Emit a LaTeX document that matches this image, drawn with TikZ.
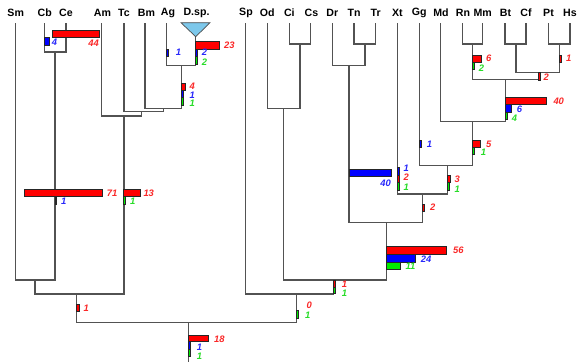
\documentclass[tikz,border=0pt]{standalone}
\usepackage{fontspec}
\setmainfont{Liberation Sans}
\definecolor{nred}{RGB}{255,0,0}
\definecolor{nblue}{RGB}{0,0,255}
\definecolor{ngreen}{RGB}{0,235,0}
\definecolor{tred}{RGB}{250,40,40}
\definecolor{tblue}{RGB}{40,40,250}
\definecolor{tgreen}{RGB}{40,220,40}
\definecolor{cladefill}{RGB}{125,200,235}
\newcommand{\evbar}[5]{\draw[evbox,fill=#5] (#1,#2) rectangle (#3,#4);}
\begin{document}
\begin{tikzpicture}[x=1pt,y=-1pt,
  branch/.style={draw=black!68,line width=1.05pt},
  evbox/.style={draw=black!85,line width=0.6pt},
  taxon/.style={font=\bfseries\fontsize{10.6}{12}\selectfont,inner sep=0pt},
  cnt/.style={font=\bfseries\itshape\fontsize{9.4}{11}\selectfont,inner sep=0pt,anchor=west},
  cntr/.style={cnt,anchor=east}]
\useasboundingbox (0,0) rectangle (579,362);

% ---------- leaves (top ends of terminal branches)
\foreach \n/\x in {Sm/15.7,Cb/44.7,Ce/66,Am/101.7,Tc/124,Bm/145,Ag/166.7,
    Sp/245.7,Od/267.3,Ci/289.3,Cs/310.7,Dr/332.3,Tn/354,Tr/375.7,Xt/397.3,
    Gg/419.3,Md/440.7,Rn/462.3,Mm/482.3,Bt/505,Cf/526,Pt/548.3,Hs/570}
  \coordinate (\n) at (\x,23);
\coordinate (Dsp) at (195.7,36.7);

% ---------- taxon names
\foreach \n/\x/\t in {Sm/15.7/Sm,Cb/44.7/Cb,Ce/66/Ce,Am/102.5/Am,Tc/124/Tc,Bm/146.5/Bm,
    Ag/168/Ag,Dsp/196.5/D.sp.,Sp/246/Sp,Od/267.3/Od,Ci/289.3/Ci,Cs/311.5/Cs,Dr/332.3/Dr,
    Tn/354/Tn,Tr/375.7/Tr,Xt/397.3/Xt,Gg/419.3/Gg,Md/441/Md,Rn/463/Rn,Mm/482.7/Mm,
    Bt/505.5/Bt,Cf/526/Cf,Pt/548.5/Pt,Hs/570/Hs}
  \node[taxon] (lbl\n) at (\x,12.7) {\t};

% collapsed clade
\draw[fill=cladefill,draw=black!70,line width=0.7pt] (181,22.7) -- (210,22.7) -- (Dsp) -- cycle;

% ---------- internal nodes (x of stem, y of joining bar)
\coordinate (nCbCe) at (55,52);
\coordinate (nAgD)  at (181.7,65.7);
\coordinate (nBm)   at (163.3,108.3);
\coordinate (nTc)   at (141.7,111.7);
\coordinate (nAm)   at (124,116);
\coordinate (nSm)   at (35,280);
\coordinate (nL)    at (76.7,294);
\coordinate (root)  at (188.3,322.7);
\coordinate (rootend) at (188.3,362);
\coordinate (nCiCs) at (300,44);
\coordinate (nOd)   at (283.3,108.3);
\coordinate (nTnTr) at (365,44);
\coordinate (nDr)   at (349,65.7);
\coordinate (nRnMm) at (472.7,44);
\coordinate (nBtCf) at (516,44);
\coordinate (nPtHs) at (559.3,44);
\coordinate (nBP)   at (538.3,72.7);
\coordinate (nRB)   at (505.7,79.3);
\coordinate (nMd)   at (472.7,121.7);
\coordinate (nGg)   at (447.7,165.7);
\coordinate (nXt)   at (422.7,194);
\coordinate (nDX)   at (386.7,222.7);
\coordinate (nOD)   at (333.3,280);
\coordinate (nR)    at (296.7,294);

% ---------- branches
\foreach \p/\c in {nCbCe/Cb,nCbCe/Ce,nAgD/Ag,nAgD/Dsp,nBm/Bm,nBm/nAgD,nTc/Tc,nTc/nBm,
    nAm/Am,nAm/nTc,nSm/Sm,nSm/nCbCe,nL/nSm,nL/nAm,root/nL,root/nR,
    nCiCs/Ci,nCiCs/Cs,nOd/Od,nOd/nCiCs,nTnTr/Tn,nTnTr/Tr,nDr/Dr,nDr/nTnTr,
    nRnMm/Rn,nRnMm/Mm,nBtCf/Bt,nBtCf/Cf,nPtHs/Pt,nPtHs/Hs,nBP/nBtCf,nBP/nPtHs,
    nRB/nRnMm,nRB/nBP,nMd/Md,nMd/nRB,nGg/Gg,nGg/nMd,nXt/Xt,nXt/nGg,
    nDX/nDr,nDX/nXt,nOD/nOd,nOD/nDX,nR/Sp,nR/nOD}
  \draw[branch] (\p) -| (\c);
\draw[branch] (root) -- (rootend);

% ---------- event bars
\evbar{52.7}{30}{99.3}{37.3}{nred}
\evbar{44.7}{37.3}{49.3}{45}{nblue}
\evbar{166.7}{49.3}{168.5}{56.7}{nblue}
\evbar{195.7}{41.7}{219}{49}{nred}
\evbar{195.7}{49}{197.3}{56.7}{nblue}
\evbar{195.7}{56.7}{197.3}{64}{ngreen}
\evbar{181.7}{83.3}{185}{90}{nred}
\evbar{181.7}{90}{183.2}{97.3}{nblue}
\evbar{181.7}{97.3}{183.2}{105}{ngreen}
\evbar{24}{189.3}{102.3}{196.7}{nred}
\evbar{55}{196.7}{56.5}{204.3}{nblue}
\evbar{123.7}{189.3}{140}{196.7}{nred}
\evbar{123.7}{196.7}{125.2}{204.3}{ngreen}
\evbar{76.7}{304}{78.8}{311.5}{nred}
\evbar{188.3}{335}{208.3}{341.7}{nred}
\evbar{188.3}{341.7}{189.8}{349}{nblue}
\evbar{188.3}{349}{189.8}{356}{ngreen}
\evbar{296.7}{310.3}{298.3}{318.3}{ngreen}
\evbar{333.3}{280.7}{334.8}{287}{nred}
\evbar{333.3}{287}{334.8}{293.3}{ngreen}
\evbar{386.7}{246.7}{446.7}{254.3}{nred}
\evbar{386.7}{254.3}{415}{262}{nblue}
\evbar{386.7}{262}{400.7}{269.7}{ngreen}
\evbar{349}{169}{391}{176.7}{nblue}
\evbar{397.3}{167.5}{399}{175}{nblue}
\evbar{397.3}{175}{399}{182.5}{nred}
\evbar{397.3}{182.5}{399}{190}{ngreen}
\evbar{419.3}{140.7}{421}{147.3}{nblue}
\evbar{472.7}{140.7}{480.3}{147.3}{nred}
\evbar{472.7}{147.3}{474.2}{154}{ngreen}
\evbar{447.7}{175}{450}{182.7}{nred}
\evbar{447.7}{182.7}{449.2}{190}{ngreen}
\evbar{422.7}{204}{424.5}{211.7}{nred}
\evbar{472.7}{55}{481.3}{62.3}{nred}
\evbar{472.7}{62.3}{474.2}{69.7}{ngreen}
\evbar{559.3}{55}{561}{62.7}{nred}
\evbar{538.3}{72.7}{540}{80}{nred}
\evbar{505.7}{97.3}{546.7}{104.3}{nred}
\evbar{505.7}{104.3}{511}{112.3}{nblue}
\evbar{505.7}{112.3}{507.2}{119.7}{ngreen}

% ---------- counts
\node[cntr,text=tred]   (c01) at (99,43.3) {44};
\node[cnt,text=tblue]   (c02) at (51.7,42.7) {4};
\node[cnt,text=tblue]   (c03) at (175.7,52.7) {1};
\node[cnt,text=tred]    (c04) at (224,45.3) {23};
\node[cnt,text=tblue]   (c05) at (201.7,52.7) {2};
\node[cnt,text=tgreen]  (c06) at (201.7,62.3) {2};
\node[cnt,text=tred]    (c07) at (189.3,86) {4};
\node[cnt,text=tblue]   (c08) at (189.3,95) {1};
\node[cnt,text=tgreen]  (c09) at (189.3,103.3) {1};
\node[cnt,text=tred]    (c10) at (106.7,193.3) {71};
\node[cnt,text=tblue]   (c11) at (61,201.7) {1};
\node[cnt,text=tred]    (c12) at (143.3,193.3) {13};
\node[cnt,text=tgreen]  (c13) at (130,201.7) {1};
\node[cnt,text=tred]    (c14) at (83.3,308.3) {1};
\node[cnt,text=tred]    (c15) at (214,339) {18};
\node[cnt,text=tblue]   (c16) at (196.7,347.7) {1};
\node[cnt,text=tgreen]  (c17) at (196.7,356.7) {1};
\node[cnt,text=tred]    (c18) at (306.3,305.7) {0};
\node[cnt,text=tgreen]  (c19) at (305,315) {1};
\node[cnt,text=tred]    (c20) at (341.7,284.3) {1};
\node[cnt,text=tgreen]  (c21) at (341.7,293.3) {1};
\node[cnt,text=tred]    (c22) at (453,250.7) {56};
\node[cnt,text=tblue]   (c23) at (420.7,259.3) {24};
\node[cnt,text=tgreen]  (c24) at (405.3,266.7) {11};
\node[cntr,text=tblue]  (c25) at (391,183.3) {40};
\node[cnt,text=tblue]   (c26) at (403.5,167.8) {1};
\node[cnt,text=tred]    (c27) at (403.5,177.4) {2};
\node[cnt,text=tgreen]  (c28) at (403.5,187) {1};
\node[cnt,text=tblue]   (c29) at (426.7,144) {1};
\node[cnt,text=tred]    (c30) at (486,144.7) {5};
\node[cnt,text=tgreen]  (c31) at (480.7,152.3) {1};
\node[cnt,text=tred]    (c32) at (454.3,179) {3};
\node[cnt,text=tgreen]  (c33) at (454.3,189) {1};
\node[cnt,text=tred]    (c34) at (430,207.3) {2};
\node[cnt,text=tred]    (c35) at (486,58.3) {6};
\node[cnt,text=tgreen]  (c36) at (478.7,68.3) {2};
\node[cnt,text=tred]    (c37) at (566,58.7) {1};
\node[cnt,text=tred]    (c38) at (543.3,77.7) {2};
\node[cnt,text=tred]    (c39) at (553.3,101.3) {40};
\node[cnt,text=tblue]   (c40) at (516.7,109) {6};
\node[cnt,text=tgreen]  (c41) at (511.7,118.3) {4};
\end{tikzpicture}
\end{document}
